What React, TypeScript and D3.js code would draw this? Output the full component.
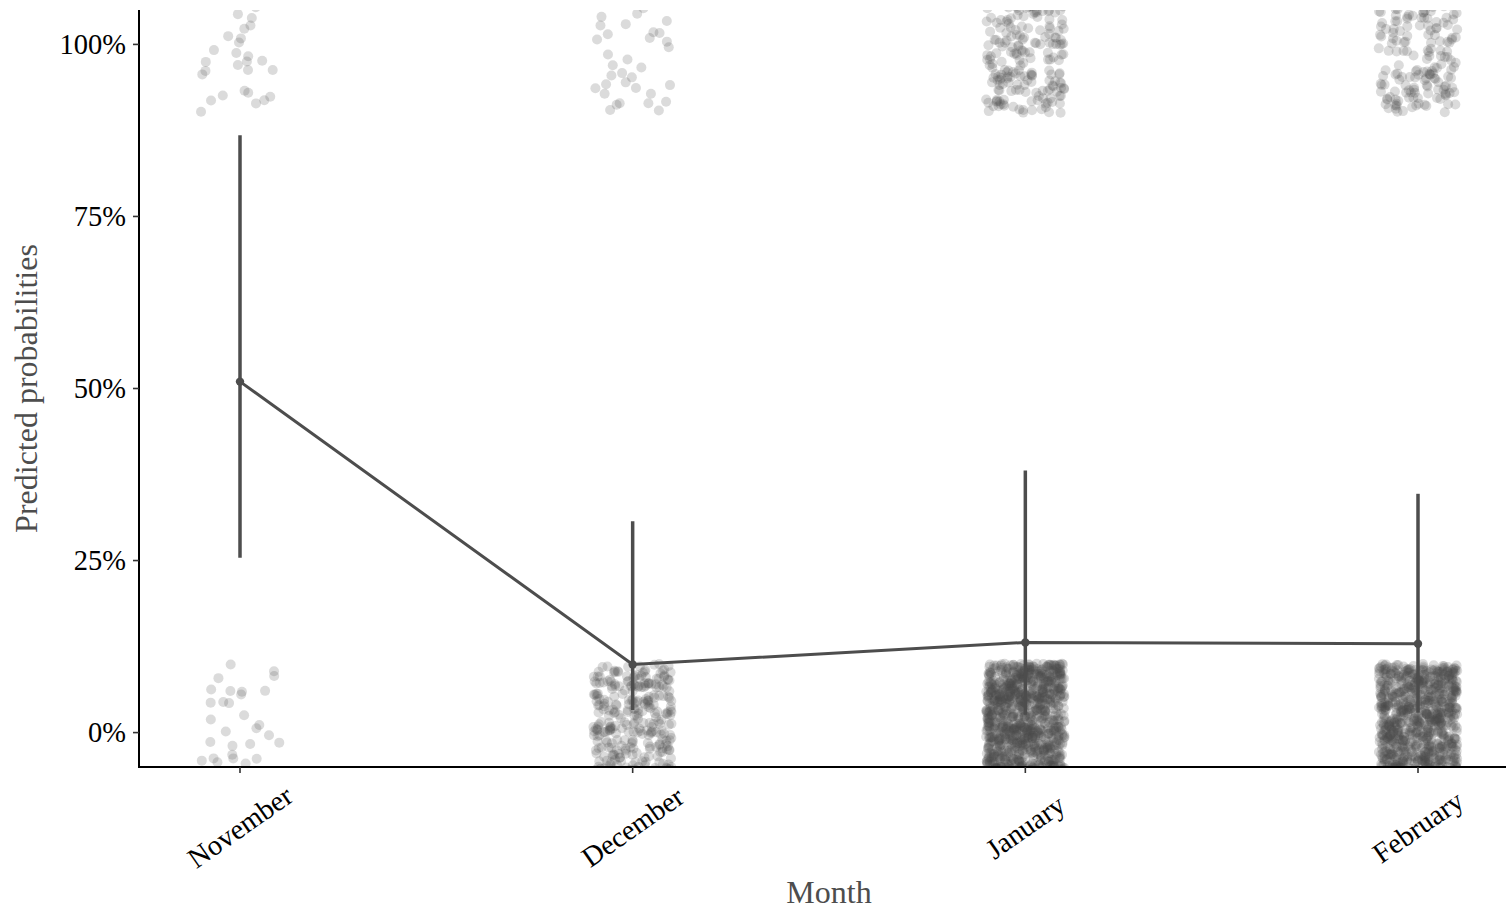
import React, { useMemo } from "react";
import * as d3 from "d3";

// Model output per month
const months = ["November", "December", "January", "February"];
const predicted = [0.51, 0.099, 0.131, 0.129];
const ciLower = [0.254, 0.033, 0.026, 0.029];
const ciUpper = [0.868, 0.307, 0.381, 0.347];

// Observed outcomes per month (count of 1s and 0s)
const countYes = [37, 45, 250, 215];
const countNo = [36, 360, 1250, 1100];

const yTicks = [0, 0.25, 0.5, 0.75, 1];

const W = 1506;
const H = 910;
const panel = { left: 139, right: 1506, top: 10, bottom: 767 };

export default function App() {
  const x = d3.scalePoint<string>().domain(months).range([240, 1418]);
  const y = d3.scaleLinear().domain([-0.05, 1.05]).range([panel.bottom, panel.top]);
  const step = x.step();

  // geom_jitter-style offsets (seeded so the layout is stable)
  const jittered = useMemo(() => {
    const rng = d3.randomLcg(0.2718);
    const pts: { cx: number; cy: number }[] = [];
    months.forEach((m, i) => {
      const groups: [number, number][] = [
        [1, countYes[i]],
        [0, countNo[i]],
      ];
      groups.forEach(([val, n]) => {
        for (let k = 0; k < n; k++) {
          const dx = (rng() * 2 - 1) * 0.1 * step;
          const dy = (rng() * 2 - 1) * 0.1;
          pts.push({ cx: (x(m) as number) + dx, cy: y(val + dy) });
        }
      });
    });
    return pts;
  }, []);

  const line = d3
    .line<number>()
    .x((_, i) => x(months[i]) as number)
    .y((d) => y(d));

  const font = "'Liberation Serif', 'Times New Roman', serif";

  return (
    <svg
      width={W}
      height={H}
      style={{ position: "absolute", left: 0, top: 0, background: "#fff" }}
      fontFamily={font}
    >
      <defs>
        <clipPath id="panel-clip">
          <rect
            x={panel.left}
            y={panel.top}
            width={panel.right - panel.left}
            height={panel.bottom - panel.top}
          />
        </clipPath>
      </defs>

      <g clipPath="url(#panel-clip)">
        {jittered.map((p, i) => (
          <circle key={i} cx={p.cx} cy={p.cy} r={5} fill="#4d4d4d" fillOpacity={0.2} />
        ))}

        <path d={line(predicted) || ""} fill="none" stroke="#4d4d4d" strokeWidth={3} />

        {months.map((m, i) => (
          <g key={m}>
            <line
              x1={x(m)}
              x2={x(m)}
              y1={y(ciLower[i])}
              y2={y(ciUpper[i])}
              stroke="#4d4d4d"
              strokeWidth={3.5}
            />
            <circle cx={x(m)} cy={y(predicted[i])} r={4.2} fill="#4d4d4d" />
          </g>
        ))}
      </g>

      {/* y axis */}
      <line x1={panel.left} x2={panel.left} y1={panel.top} y2={panel.bottom + 1} stroke="#000" strokeWidth={2} />
      {yTicks.map((t) => (
        <g key={t}>
          <line x1={panel.left - 6} x2={panel.left} y1={y(t)} y2={y(t)} stroke="#333" strokeWidth={1.6} />
          <text
            x={panel.left - 13}
            y={y(t)}
            textAnchor="end"
            dominantBaseline="central"
            fontSize={28.5}
            fill="#000"
          >
            {d3.format(".0%")(t)}
          </text>
        </g>
      ))}

      {/* x axis */}
      <line x1={panel.left - 1} x2={panel.right} y1={panel.bottom} y2={panel.bottom} stroke="#000" strokeWidth={2} />
      {months.map((m) => (
        <g key={m}>
          <line x1={x(m)} x2={x(m)} y1={panel.bottom} y2={panel.bottom + 6} stroke="#333" strokeWidth={1.6} />
          <text
            transform={`translate(${x(m)},${827}) rotate(-35)`}
            textAnchor="middle"
            dominantBaseline="central"
            fontSize={28.5}
            fill="#000"
          >
            {m}
          </text>
        </g>
      ))}

      {/* axis titles */}
      <text x={829} y={903} textAnchor="middle" fontSize={32} fill="#4d4d4d">
        Month
      </text>
      <text
        transform={`translate(37,${(panel.top + panel.bottom) / 2}) rotate(-90)`}
        textAnchor="middle"
        fontSize={32}
        fill="#4d4d4d"
      >
        Predicted probabilities
      </text>
    </svg>
  );
}
